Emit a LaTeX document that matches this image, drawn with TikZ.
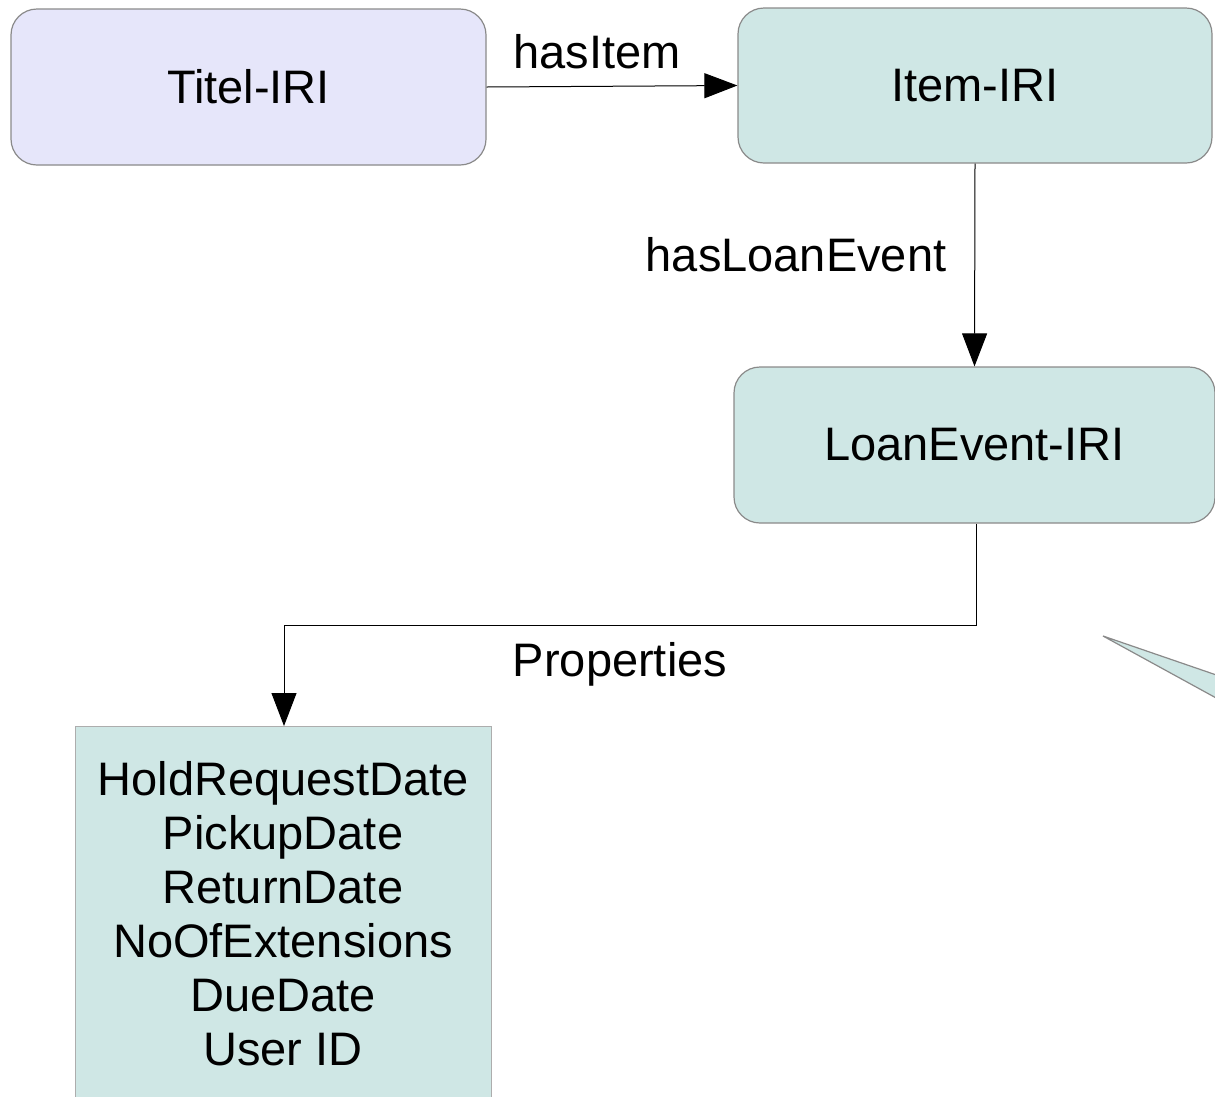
\documentclass[tikz,border=0pt]{standalone}
\usepackage{fontspec}
\setmainfont{Liberation Sans}
\usetikzlibrary{arrows.meta}
\definecolor{lav}{HTML}{E6E6FA}
\definecolor{teal1}{HTML}{CFE7E5}
\definecolor{bord}{HTML}{8A8A8A}
\tikzset{
  rbox/.style={draw=bord, line width=1.2pt, rounded corners=26pt, inner sep=0pt, font=\fontsize{47}{54}\selectfont},
  pbox/.style={draw=bord!70, line width=1.2pt, fill=teal1, inner sep=0pt},
  conn/.style={draw=black, line width=1pt, -{Triangle[length=33pt,width=25pt]}},
  lbl/.style={font=\fontsize{47}{54}\selectfont, inner sep=0pt}
}
\begin{document}
\begin{tikzpicture}[x=1pt,y=-1pt]
\useasboundingbox (0,0) rectangle (1215,1096);
\begin{scope}
\clip (0,0) rectangle (1215,1096);
% nodes
\node[rbox, fill=lav, minimum width=475pt, minimum height=156pt] (titel) at (248.5,87) {Titel-IRI};
\node[rbox, fill=teal1, minimum width=474pt, minimum height=155pt] (item) at (975,85.5) {Item-IRI};
\node[rbox, fill=teal1, minimum width=481pt, minimum height=156pt] (loan) at (974.5,445) {LoanEvent-IRI};
\node[pbox, minimum width=416pt, minimum height=420pt, anchor=north west] (props) at (75,726) {};
\node[lbl, align=center, anchor=north] (proptext) at (283,761) {HoldRequestDate\\PickupDate\\ReturnDate\\NoOfExtensions\\DueDate\\User ID};
% triangle callout
\filldraw[fill=teal1, draw=bord, line width=1.2pt] (1103,636) -- (1260,690) -- (1260,722) -- cycle;
\end{scope}
% connectors
\draw[conn] (titel.east) -- (item.west);
\draw[conn] (item.south) -- (loan.north);
\coordinate (bend1) at (976,625);
\coordinate (bend2) at (284,625);
\draw[conn] (loan.south -| bend1) -- (bend1) -- (bend2) -- (props.north -| bend2);
% labels
\node[lbl] (l1) at (597,52) {hasItem};
\node[lbl] (l2) at (796,255) {hasLoanEvent};
\node[lbl] (l3) at (620,664) {Properties};
\end{tikzpicture}
\end{document}
